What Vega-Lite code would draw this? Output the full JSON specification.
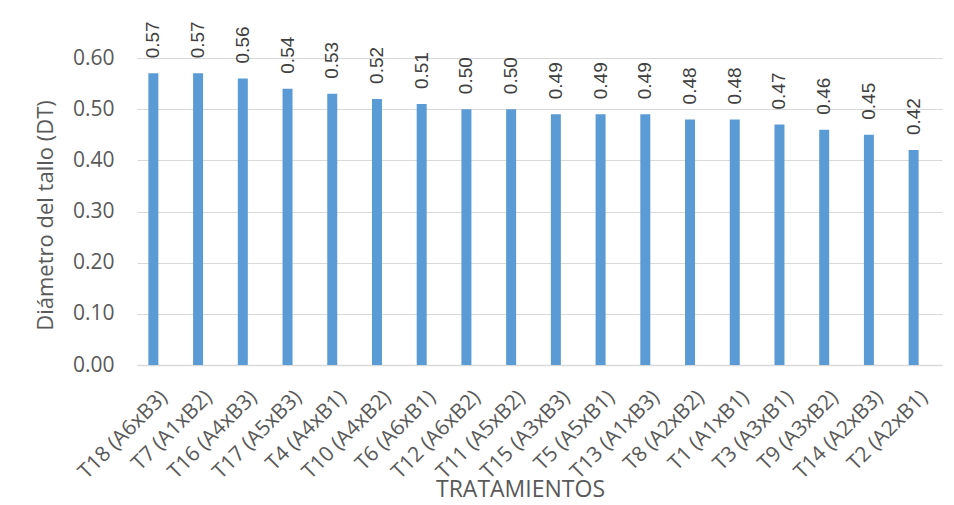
{
  "$schema": "https://vega.github.io/schema/vega-lite/v6.json",
  "autosize": {"type": "none"},
  "width": 805,
  "height": 307,
  "padding": {"left": 137, "top": 58, "right": 12, "bottom": 140},
  "background": "white",
  "config": {
    "view": {"stroke": null},
    "font": "Open Sans",
    "axis": {"labelColor": "#595959", "titleColor": "#595959", "titleFontWeight": "normal"}
  },
  "data": {
    "values": [
      {"tratamiento": "T18 (A6xB3)", "dt": 0.57},
      {"tratamiento": "T7 (A1xB2)", "dt": 0.57},
      {"tratamiento": "T16 (A4xB3)", "dt": 0.56},
      {"tratamiento": "T17 (A5xB3)", "dt": 0.54},
      {"tratamiento": "T4 (A4xB1)", "dt": 0.53},
      {"tratamiento": "T10 (A4xB2)", "dt": 0.52},
      {"tratamiento": "T6 (A6xB1)", "dt": 0.51},
      {"tratamiento": "T12 (A6xB2)", "dt": 0.50},
      {"tratamiento": "T11 (A5xB2)", "dt": 0.50},
      {"tratamiento": "T15 (A3xB3)", "dt": 0.49},
      {"tratamiento": "T5 (A5xB1)", "dt": 0.49},
      {"tratamiento": "T13 (A1xB3)", "dt": 0.49},
      {"tratamiento": "T8 (A2xB2)", "dt": 0.48},
      {"tratamiento": "T1 (A1xB1)", "dt": 0.48},
      {"tratamiento": "T3 (A3xB1)", "dt": 0.47},
      {"tratamiento": "T9 (A3xB2)", "dt": 0.46},
      {"tratamiento": "T14 (A2xB3)", "dt": 0.45},
      {"tratamiento": "T2 (A2xB1)", "dt": 0.42}
    ]
  },
  "encoding": {
    "x": {
      "field": "tratamiento",
      "type": "nominal",
      "sort": null,
      "scale": {"paddingInner": 0, "paddingOuter": 0},
      "axis": {
        "title": "TRATAMIENTOS",
        "titleFontSize": 23,
        "titleX": 383,
        "titleY": 124,
        "titleBaseline": "middle",
        "labelAngle": -45,
        "labelFontSize": 21,
        "labelPadding": 21,
        "ticks": false,
        "domainColor": "#d9d9d9",
        "domainWidth": 1.5,
        "labelOffset": -3
      }
    },
    "y": {
      "field": "dt",
      "type": "quantitative",
      "scale": {"domain": [0, 0.6]},
      "axis": {
        "title": "Diámetro del tallo (DT)",
        "titleFontSize": 22,
        "titleX": -92,
        "titleY": 157,
        "titleBaseline": "middle",
        "titleAnchor": "middle",
        "values": [0, 0.1, 0.2, 0.3, 0.4, 0.5, 0.6],
        "format": ".2f",
        "labelFontSize": 21,
        "labelPadding": 23,
        "ticks": false,
        "domain": false,
        "gridColor": "#d9d9d9",
        "gridWidth": 1.2
      }
    }
  },
  "layer": [
    {
      "mark": {"type": "bar", "color": "#5b9bd5", "width": 10, "xOffset": -6}
    },
    {
      "mark": {
        "type": "text",
        "angle": 270,
        "align": "left",
        "baseline": "middle",
        "dx": 15,
        "xOffset": -6,
        "fontSize": 19,
        "color": "#404040",
        "font": "Liberation Sans"
      },
      "encoding": {
        "text": {"field": "dt", "type": "quantitative", "format": ".2f"}
      }
    }
  ]
}
